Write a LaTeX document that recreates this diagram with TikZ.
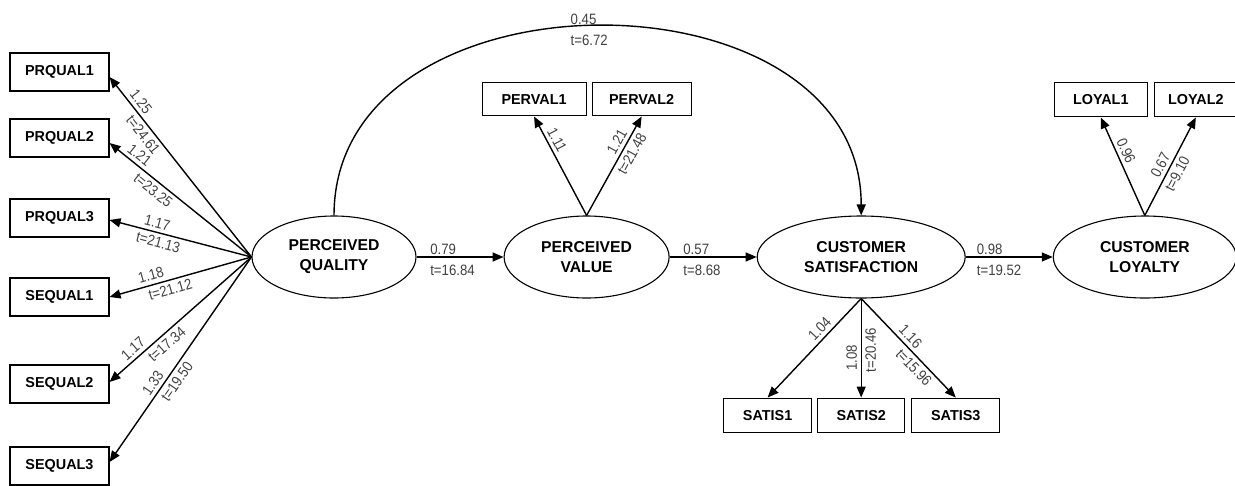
\documentclass[tikz,border=0pt]{standalone}
\usepackage{fontspec}
\setmainfont{Liberation Sans}
\newfontfamily\narrowfont[FakeStretch=0.88]{Liberation Sans}
\usetikzlibrary{positioning,shapes.geometric,arrows.meta}
\tikzset{
	latent/.style={draw, ellipse, line width=1.1pt, inner sep=0pt, minimum height=82pt, align=center, font=\fontsize{15.7}{20}\selectfont\bfseries},
	manifest/.style={draw, rectangle, line width=1.1pt, inner sep=0pt, minimum height=38pt, font=\fontsize{14.4}{16}\selectfont\bfseries},
	coef/.style={font=\fontsize{15}{16}\selectfont\narrowfont, text=black!75, inner sep=3.5pt},
	coefup/.style={coef, anchor=south west, inner xsep=0pt, inner ysep=1.5pt},
	coefdown/.style={coef, anchor=north west, inner xsep=0pt, inner ysep=7pt},
	effect/.style={-{Triangle[length=11pt,width=9pt]}, line width=1.4pt},
}
\begin{document}
\begin{tikzpicture}[x=1pt, y=-1pt]
		\useasboundingbox (0,0) rectangle (1235,485) ;
		\node[latent, minimum width=164pt] (PQual) at (334,257) {PERCEIVED\\QUALITY} ;
		\node[latent, minimum width=165pt, right=87pt of PQual] (PValue) {PERCEIVED\\VALUE} ;
		\node[latent, minimum width=208pt, right=87pt of PValue] (CSat) {CUSTOMER\\SATISFACTION} ;
		\node[latent, minimum width=183pt, right=87pt of CSat] (CLoyal) {CUSTOMER\\LOYALTY} ;
		\node[manifest, minimum width=99pt] (Prqual1) at (59.5,72) {PRQUAL1} ;
		\node[manifest, minimum width=99pt] (Prqual2) at (59.5,138) {PRQUAL2} ;
		\node[manifest, minimum width=99pt] (Prqual3) at (59.5,218) {PRQUAL3} ;
		\node[manifest, minimum width=99pt] (Sequal1) at (59.5,297) {SEQUAL1} ;
		\node[manifest, minimum width=99pt] (Sequal2) at (59.5,384) {SEQUAL2} ;
		\node[manifest, minimum width=99pt] (Sequal3) at (59.5,466) {SEQUAL3} ;
		\node[manifest, minimum width=104pt, minimum height=33pt, above left=99pt and 0pt of PValue.north] (Perval1) {PERVAL1} ;
		\node[manifest, minimum width=99pt, minimum height=33pt, right=5pt of Perval1] (Perval2) {PERVAL2} ;
		\node[manifest, minimum width=87pt, minimum height=34pt, below=99pt of CSat] (Satis2) {SATIS2} ;
		\node[manifest, minimum width=88pt, minimum height=34pt, left=5pt of Satis2] (Satis1) {SATIS1} ;
		\node[manifest, minimum width=88pt, minimum height=34pt, right=6pt of Satis2] (Satis3) {SATIS3} ;
		\node[manifest, minimum width=93pt, minimum height=34pt, above left=98pt and -3pt of CLoyal.north] (Loyal1) {LOYAL1} ;
		\node[manifest, minimum width=83pt, minimum height=34pt, right=6pt of Loyal1] (Loyal2) {LOYAL2} ;
		% structural paths
		\draw[effect] (PQual.east) -- (PValue.west) node[coefup, pos=0.15] {0.79} node[coefdown, pos=0.15] {t=16.84} ;
		\draw[effect] (PValue.east) -- (CSat.west) node[coefup, pos=0.15] {0.57} node[coefdown, pos=0.15] {t=8.68} ;
		\draw[effect] (CSat.east) -- (CLoyal.west) node[coefup, pos=0.12] {0.98} node[coefdown, pos=0.12] {t=19.52} ;
		\draw[effect] (PQual.north) to[out=90, in=90, looseness=1.226] node[coefup, pos=0.465] {0.45} node[coefdown, pos=0.465] {t=6.72} (CSat.north) ;
		% loadings
		\draw[effect] (PQual.west) -- ([yshift=-5pt]Prqual1.east) node[coef, sloped, above, pos=0.83] {1.25} node[coef, sloped, below, pos=0.71] {t=24.61} ;
		\draw[effect] (PQual.west) -- ([yshift=-5pt]Prqual2.east) node[coef, sloped, above, pos=0.83] {1.21} node[coef, sloped, below, pos=0.65] {t=23.25} ;
		\draw[effect] (PQual.west) -- ([yshift=-2pt]Prqual3.east) node[coef, sloped, above, pos=0.68] {1.17} node[coef, sloped, below, pos=0.64] {t=21.13} ;
		\draw[effect] (PQual.west) -- (Sequal1.east) node[coef, sloped, above, pos=0.69] {1.18} node[coef, sloped, below, pos=0.59] {t=21.12} ;
		\draw[effect] (PQual.west) -- ([yshift=2pt]Sequal2.east) node[coef, sloped, above, pos=0.79] {1.17} node[coef, sloped, below, pos=0.64] {t=17.34} ;
		\draw[effect] (PQual.west) -- ([yshift=4pt]Sequal3.east) node[coef, sloped, above, pos=0.64] {1.33} node[coef, sloped, below, pos=0.58] {t=19.50} ;
		\draw[effect] (PValue.north) -- (Perval1.south) node[coef, sloped, above, pos=0.72] {1.11} ;
		\draw[effect] (PValue.north) -- (Perval2.south) node[coef, sloped, above, pos=0.70] {1.21} node[coef, sloped, below, pos=0.67] {t=21.48} ;
		\draw[effect] (CSat.south) -- (Satis1.north) node[coef, sloped, above, pos=0.37] {1.04} ;
		\draw[effect] (CSat.south) -- (Satis2.north) node[coef, rotate=90, above, pos=0.6] {1.08} node[coef, rotate=90, below, pos=0.52] {t=20.46} ;
		\draw[effect] (CSat.south) -- (Satis3.north) node[coef, sloped, above, pos=0.45] {1.16} node[coef, sloped, below, pos=0.63] {t=15.96} ;
		\draw[effect] (CLoyal.north) -- (Loyal1.south) node[coef, sloped, above, pos=0.62] {0.96} ;
		\draw[effect] (CLoyal.north) -- (Loyal2.south) node[coef, sloped, above, pos=0.47] {0.67} node[coef, sloped, below, pos=0.47] {t=9.10} ;
	\end{tikzpicture}
\end{document}
